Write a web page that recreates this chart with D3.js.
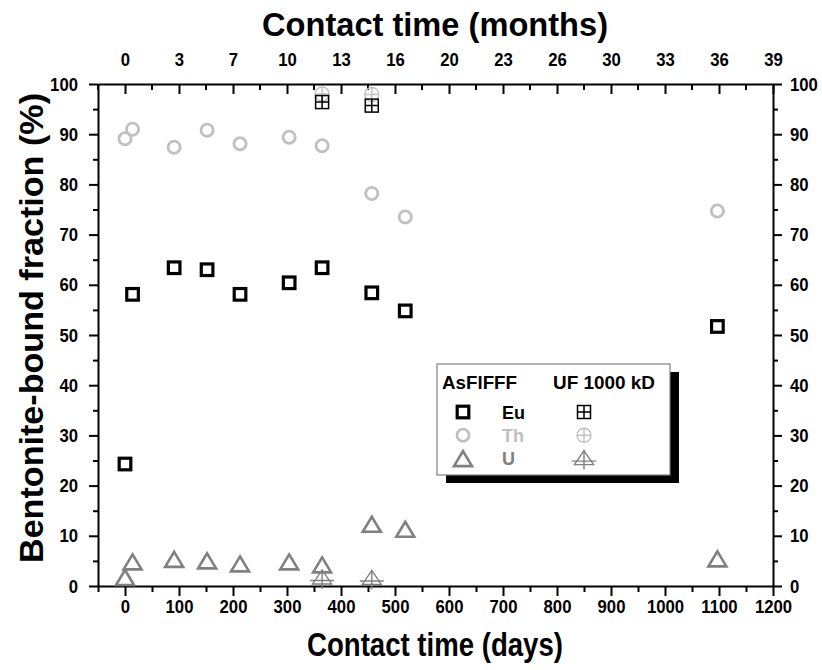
<!DOCTYPE html>
<html>
<head>
<meta charset="utf-8">
<script src="https://cdn.jsdelivr.net/npm/d3@7"></script>
<style>
  html, body { margin: 0; padding: 0; background: #fff; }
  svg { display: block; }
  text { font-family: "Liberation Sans", Arial, sans-serif; font-weight: bold; }
</style>
</head>
<body>
<svg id="chart" width="822" height="670"></svg>
<script>
// ---------------- data ----------------
const days   = [0, 14, 91, 152, 213, 304, 365, 457, 519, 1097];
const euAs   = [24.3, 58.1, 63.4, 63.0, 58.1, 60.4, 63.4, 58.4, 54.8, 51.7];
const thAs   = [89.1, 91.0, 87.4, 90.8, 88.1, 89.4, 87.7, 78.2, 73.5, 74.7];
const uAs    = [1.7, 4.8, 5.3, 5.0, 4.4, 4.8, 4.2, 12.3, 11.3, 5.4];

const ufDays = [365, 457];
const euUF   = [96.4, 95.7];
const thUF   = [98.0, 97.9];
const uUF    = [1.6, 1.5];

const dayTicks    = [0, 100, 200, 300, 400, 500, 600, 700, 800, 900, 1000, 1100, 1200];
const monthLabels = ["0", "3", "7", "10", "13", "16", "20", "23", "26", "30", "33", "36", "39"];
const yTicks      = [0, 10, 20, 30, 40, 50, 60, 70, 80, 90, 100];

// ---------------- layout ----------------
const svg = d3.select("#chart");
const x = d3.scaleLinear().domain([-50, 1200]).range([98, 773]);
const y = d3.scaleLinear().domain([0, 100]).range([586, 84]);

const minorX = d3.range(-50, 1201, 50).filter(v => v % 100 !== 0);
const minorY = d3.range(5, 100, 10);

const BLACK = "#000", LIGHT = "#c0c0c0", MID = "#808080";
const TICK_FS = 19;

// squeeze text horizontally (narrow bold look)
function condense(sel, f) {
  sel.each(function () {
    const L = this.getComputedTextLength();
    d3.select(this).attr("textLength", (L * f).toFixed(1)).attr("lengthAdjust", "spacingAndGlyphs");
  });
}

function styleAxis(g) {
  g.select(".domain").attr("stroke", "#000").attr("stroke-width", 2);
  g.selectAll(".tick line").attr("stroke", "#000").attr("stroke-width", 2);
  g.selectAll(".tick text").attr("fill", "#000").style("font-size", TICK_FS + "px");
  condense(g.selectAll(".tick text"), 0.88);
}

// bottom axis
const gB = svg.append("g").attr("transform", `translate(0,${y(0)})`)
  .call(d3.axisBottom(x).tickValues(dayTicks).tickSizeInner(10).tickSizeOuter(0).tickPadding(4).tickFormat(d3.format("d")));
styleAxis(gB);
svg.append("g").attr("transform", `translate(0,${y(0)})`)
  .call(d3.axisBottom(x).tickValues(minorX).tickSize(6).tickFormat(""))
  .call(g => { g.select(".domain").remove(); g.selectAll("line").attr("stroke", "#000").attr("stroke-width", 2); });

// top axis (inward ticks, month labels)
const gT = svg.append("g").attr("transform", `translate(0,${y(100)})`)
  .call(d3.axisTop(x).tickValues(dayTicks).tickSizeInner(0).tickSizeOuter(0).tickPadding(18)
    .tickFormat((d, i) => monthLabels[i]));
styleAxis(gT);
gT.selectAll(".tick").append("line").attr("y1", 0).attr("y2", 10).attr("stroke", "#000").attr("stroke-width", 2);
svg.append("g").attr("transform", `translate(0,${y(100)})`)
  .selectAll("line").data(minorX).join("line")
  .attr("x1", d => x(d)).attr("x2", d => x(d)).attr("y1", 0).attr("y2", 6)
  .attr("stroke", "#000").attr("stroke-width", 2);

// left axis
const gL = svg.append("g").attr("transform", `translate(${x(-50)},0)`)
  .call(d3.axisLeft(y).tickValues(yTicks).tickSizeInner(9).tickSizeOuter(0).tickPadding(11));
styleAxis(gL);
svg.append("g").attr("transform", `translate(${x(-50)},0)`)
  .call(d3.axisLeft(y).tickValues(minorY).tickSize(5).tickFormat(""))
  .call(g => { g.select(".domain").remove(); g.selectAll("line").attr("stroke", "#000").attr("stroke-width", 2); });

// right axis
const gR = svg.append("g").attr("transform", `translate(${x(1200)},0)`)
  .call(d3.axisRight(y).tickValues(yTicks).tickSizeInner(9).tickSizeOuter(0).tickPadding(8));
styleAxis(gR);
svg.append("g").attr("transform", `translate(${x(1200)},0)`)
  .call(d3.axisRight(y).tickValues(minorY).tickSize(5).tickFormat(""))
  .call(g => { g.select(".domain").remove(); g.selectAll("line").attr("stroke", "#000").attr("stroke-width", 2); });

// axis titles
svg.append("text").attr("x", 435).attr("y", 36).attr("text-anchor", "middle")
  .attr("textLength", 346).attr("lengthAdjust", "spacingAndGlyphs")
  .style("font-size", "34px").text("Contact time (months)");
svg.append("text").attr("x", 435).attr("y", 656).attr("text-anchor", "middle")
  .attr("textLength", 256).attr("lengthAdjust", "spacingAndGlyphs")
  .style("font-size", "33px").text("Contact time (days)");
svg.append("text").attr("transform", "translate(43,328) rotate(-90)").attr("text-anchor", "middle")
  .attr("textLength", 470).attr("lengthAdjust", "spacingAndGlyphs")
  .style("font-size", "33px").text("Bentonite-bound fraction (%)");

// ---------------- symbols ----------------
const sym = {
  square: (g, c) => g.append("rect").attr("x", -5.8).attr("y", -5.8).attr("width", 11.6).attr("height", 11.6)
      .attr("fill", "none").attr("stroke", c).attr("stroke-width", 3.2),
  circle: (g, c) => g.append("circle").attr("r", 6.1).attr("fill", "none").attr("stroke", c).attr("stroke-width", 2.8),
  triangle: (g, c) => g.append("path").attr("d", "M0,-7.5L9,7.5L-9,7.5Z")
      .attr("fill", "none").attr("stroke", c).attr("stroke-width", 2.6).attr("stroke-linejoin", "miter"),
  squarePlus: (g, c) => {
    g.append("rect").attr("x", -6.5).attr("y", -6.5).attr("width", 13).attr("height", 13)
      .attr("fill", "none").attr("stroke", c).attr("stroke-width", 1.5);
    g.append("path").attr("d", "M0,-6.5V6.5M-6.5,0H6.5").attr("stroke", c).attr("stroke-width", 1.5);
  },
  circlePlus: (g, c) => {
    g.append("circle").attr("r", 7).attr("fill", "none").attr("stroke", c).attr("stroke-width", 1.4);
    g.append("path").attr("d", "M0,-7V7M-7,0H7").attr("stroke", c).attr("stroke-width", 1.4);
  },
  trianglePlus: (g, c) => {
    g.append("path").attr("d", "M0,-8L9.5,6L-9.5,6Z").attr("fill", "none").attr("stroke", c).attr("stroke-width", 1.4);
    g.append("path").attr("d", "M0,-8V11M-12,2.5H12").attr("stroke", c).attr("stroke-width", 1.4);
  }
};

function plotSeries(xs, ys, shape, color) {
  const g = svg.append("g");
  xs.forEach((d, i) => {
    const p = g.append("g").attr("transform", `translate(${x(d)},${y(ys[i])})`);
    sym[shape](p, color);
  });
}

plotSeries(days, uAs, "triangle", MID);
plotSeries(days, thAs, "circle", LIGHT);
plotSeries(days, euAs, "square", BLACK);
plotSeries(ufDays, uUF, "trianglePlus", MID);
plotSeries(ufDays, thUF, "circlePlus", LIGHT);
plotSeries(ufDays, euUF, "squarePlus", BLACK);

// ---------------- legend ----------------
const lg = svg.append("g").attr("transform", "translate(437,364)");
lg.append("rect").attr("x", 9).attr("y", 8).attr("width", 233).attr("height", 111).attr("fill", "#000");
lg.append("rect").attr("x", 0).attr("y", 0).attr("width", 233).attr("height", 111)
  .attr("fill", "#fff").attr("stroke", "#808080").attr("stroke-width", 1.2);
const LFS = "18px";
lg.append("text").attr("x", 5).attr("y", 25).style("font-size", LFS)
  .attr("textLength", 75).attr("lengthAdjust", "spacingAndGlyphs").text("AsFlFFF");
lg.append("text").attr("x", 116).attr("y", 25).style("font-size", LFS)
  .attr("textLength", 102).attr("lengthAdjust", "spacingAndGlyphs").text("UF 1000 kD");
const legRows = [
  { name: "Eu", col: BLACK, s1: "square", s2: "squarePlus" },
  { name: "Th", col: LIGHT, s1: "circle", s2: "circlePlus" },
  { name: "U",  col: MID,   s1: "triangle", s2: "trianglePlus" }
];
legRows.forEach((r, i) => {
  const cy = 48 + i * 23.3;
  sym[r.s1](lg.append("g").attr("transform", `translate(26,${cy})`), r.col);
  lg.append("text").attr("x", 65).attr("y", cy + 6.5).attr("fill", r.col).style("font-size", LFS).text(r.name);
  sym[r.s2](lg.append("g").attr("transform", `translate(147,${cy})`), r.col);
});
</script>
</body>
</html>
